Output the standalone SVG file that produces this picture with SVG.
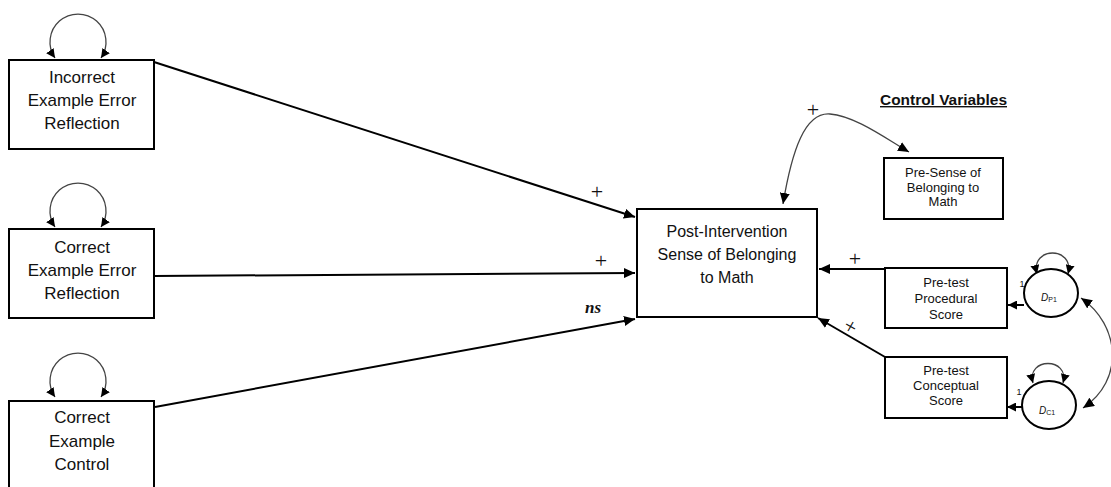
<svg xmlns="http://www.w3.org/2000/svg" width="1111" height="487" viewBox="0 0 1111 487">
<style>
.box{fill:#fff;stroke:#000;stroke-width:2}
.t{font-family:"Liberation Sans",Arial,sans-serif;fill:#111;text-anchor:middle}
.big{font-size:17px}
.mid{font-size:16px}
.sm{font-size:13px}
.conn{fill:none;stroke:#000;stroke-width:2}
.curve{fill:none;stroke:#444;stroke-width:1.3}
.lbl{font-family:"Liberation Serif","Times New Roman",serif;font-size:22px;fill:#111;text-anchor:middle}
</style>
<defs>
<marker id="ah" markerUnits="userSpaceOnUse" markerWidth="12" markerHeight="10" refX="11" refY="5" orient="auto-start-reverse">
<path d="M0,0 L11,5 L0,10 z" fill="#000"/>
</marker>
<marker id="ahs" markerUnits="userSpaceOnUse" markerWidth="10" markerHeight="9" refX="9" refY="4.5" orient="auto-start-reverse">
<path d="M0,0 L9,4.5 L0,9 z" fill="#000"/>
</marker>
</defs>

<g id="connectors">
<line class="conn" x1="154" y1="62" x2="635" y2="217" marker-end="url(#ah)"/>
<line class="conn" x1="154" y1="276" x2="635" y2="273" marker-end="url(#ah)"/>
<line class="conn" x1="155" y1="407" x2="635" y2="319" marker-end="url(#ah)"/>
<polyline class="conn" points="885,269 819,269" marker-end="url(#ah)"/>
<line class="conn" x1="885" y1="357" x2="818" y2="318" marker-end="url(#ah)"/>
<line class="conn" x1="1024" y1="305" x2="1008" y2="305" marker-end="url(#ahs)"/>
<line class="conn" x1="1022" y1="407" x2="1007" y2="407" marker-end="url(#ahs)"/>
<path class="curve" d="M783,204 C792,150 805,112 830,114 C855,116 885,138 909,152" marker-start="url(#ah)" marker-end="url(#ah)"/>
<path class="curve" d="M1081,298 C1120,325 1125,380 1083,408" marker-start="url(#ah)" marker-end="url(#ah)"/>
<path class="curve" d="M55,58 A28,28 0 1 1 101,58" marker-start="url(#ahs)" marker-end="url(#ahs)"/>
<path class="curve" d="M55,227 A28,28 0 1 1 101,227" marker-start="url(#ahs)" marker-end="url(#ahs)"/>
<path class="curve" d="M55,397 A28,28 0 1 1 101,397" marker-start="url(#ahs)" marker-end="url(#ahs)"/>
<path class="curve" d="M1037,274 C1030,246 1075,246 1068,274" marker-start="url(#ahs)" marker-end="url(#ahs)"/>
<path class="curve" d="M1033,383 C1026,357 1070,357 1063,383" marker-start="url(#ahs)" marker-end="url(#ahs)"/>
<text class="lbl" x="597" y="199">+</text>
<text class="lbl" x="601" y="268">+</text>
<text x="593" y="313" font-family="Liberation Serif,'Times New Roman',serif" font-size="17" font-weight="bold" font-style="italic" fill="#111" text-anchor="middle">ns</text>
<text class="lbl" x="813" y="117">+</text>
<text class="lbl" x="855" y="266">+</text>
<text class="lbl" x="851" y="334" transform="rotate(30 851 326)">+</text>
<text x="1022" y="287" font-family="Liberation Sans,Arial,sans-serif" font-size="9" fill="#111" text-anchor="middle">1</text>
<text x="1019" y="395" font-family="Liberation Sans,Arial,sans-serif" font-size="9" fill="#111" text-anchor="middle">1</text>
</g>

<g id="n-incorrect-error">
<rect class="box" x="9" y="60" width="145" height="89"/>
<text class="t big" x="82" y="83">Incorrect</text>
<text class="t big" x="82" y="106">Example Error</text>
<text class="t big" x="82" y="129">Reflection</text>
</g>

<g id="n-correct-error">
<rect class="box" x="9" y="229" width="145" height="89"/>
<text class="t big" x="82" y="253">Correct</text>
<text class="t big" x="82" y="276">Example Error</text>
<text class="t big" x="82" y="299">Reflection</text>
</g>

<g id="n-correct-control">
<rect class="box" x="9" y="401" width="145" height="100"/>
<text class="t big" x="82" y="423">Correct</text>
<text class="t big" x="82" y="447">Example</text>
<text class="t big" x="82" y="470">Control</text>
</g>

<g id="n-post">
<rect class="box" x="637" y="209" width="180" height="108"/>
<text class="t mid" x="727" y="237">Post-Intervention</text>
<text class="t mid" x="727" y="260">Sense of Belonging</text>
<text class="t mid" x="727" y="283">to Math</text>
</g>

<g id="title">
<text x="880" y="105" font-family="Liberation Sans,Arial,sans-serif" font-size="14" font-weight="bold" fill="#111" text-decoration="underline" textLength="127" lengthAdjust="spacingAndGlyphs">Control Variables</text>
</g>

<g id="n-pre-sense">
<rect class="box" x="884" y="158" width="119" height="61"/>
<text class="t sm" x="943" y="177">Pre-Sense of</text>
<text class="t sm" x="943" y="192">Belonging to</text>
<text class="t sm" x="943" y="206">Math</text>
</g>

<g id="n-procedural">
<rect class="box" x="885" y="268" width="122" height="60"/>
<text class="t sm" x="946" y="287">Pre-test</text>
<text class="t sm" x="946" y="303">Procedural</text>
<text class="t sm" x="946" y="319">Score</text>
</g>

<g id="n-conceptual">
<rect class="box" x="885" y="357" width="122" height="61"/>
<text class="t sm" x="946" y="375">Pre-test</text>
<text class="t sm" x="946" y="390">Conceptual</text>
<text class="t sm" x="946" y="405">Score</text>
</g>

<g id="n-dp1">
<ellipse cx="1051" cy="293" rx="27" ry="24" fill="#fff" stroke="#000" stroke-width="2"/>
<text x="1049" y="301" font-family="Liberation Sans,Arial,sans-serif" font-size="10" font-style="italic" fill="#111" text-anchor="middle">D<tspan font-size="7" font-style="normal" dy="1">P1</tspan></text>
</g>

<g id="n-dc1">
<ellipse cx="1049" cy="405" rx="27" ry="24" fill="#fff" stroke="#000" stroke-width="2"/>
<text x="1047" y="414" font-family="Liberation Sans,Arial,sans-serif" font-size="10" font-style="italic" fill="#111" text-anchor="middle">D<tspan font-size="7" font-style="normal" dy="1">C1</tspan></text>
</g>
</svg>
